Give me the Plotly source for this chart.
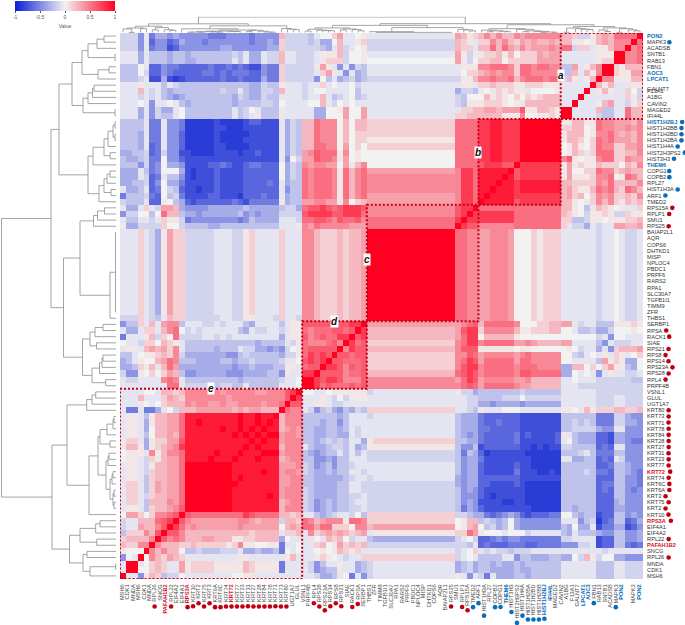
import numpy as np
import plotly.graph_objects as go

# gene order, top to bottom on the right hand side
genes = [
    "PON2", "MAPK3", "ACADSB", "SNTB1", "RAB13", "FBN1", "AOC3", "LPCAT1", "GALNT7", "F13A1",
    "A1BG", "CAVIN2", "MAGED2", "IFI44L", "HIST1H2BJ", "HIST1H2BB", "HIST1H2BD", "HIST1H2BA",
    "HIST1H4A", "HIST2H3PS2", "HIST3H3", "THEM6", "COPG1", "COPB2", "RPL27", "HIST1H3A", "ARF1",
    "TMED2", "RPS15A", "RPLP1", "SMU1", "RPS25", "BAIAP2L1", "AQR", "COPS6", "DHTKD1", "MISP",
    "NPLOC4", "PBDC1", "PRPF6", "RARS2", "RPA1", "SLC30A7", "TGFB1I1", "TIMM9", "ZFR", "THBS1",
    "SERBP1", "RPSA", "RACK1", "SIAE", "RPS21", "RPS8", "RPS14", "RPS23A", "RPS28", "RPL4",
    "PRPF4B", "VSNL1", "GLUL", "UGT1A7", "KRT80", "KRT73", "KRT71", "KRT78", "KRT84", "KRT28",
    "KRT27", "KRT31", "KRT23", "KRT77", "KRT72", "KRT74", "KRT6C", "KRT6A", "KRT3", "KRT75",
    "KRT2", "KRT10", "RPS3A", "EIF4A1", "EIF4A2", "RPL22", "PAFAH1B2", "SNCG", "RPL26", "MNDA",
    "CDK1", "MSH6",
]

# colour level, one character per cell
levels = {
    "j": -1.0, "i": -0.86, "h": -0.77, "g": -0.66, "f": -0.56, "e": -0.45, "d": -0.33,
    "c": -0.22, "b": -0.14, "a": -0.06, "0": 0.0, "1": 0.05, "2": 0.14, "3": 0.24,
    "4": 0.34, "5": 0.44, "6": 0.54, "7": 0.63, "8": 0.76, "9": 0.89, "X": 1.0,
}

# columns left to right are the genes bottom to top; only cells up to the diagonal are read,
# the other half is the mirror. Chunks follow the cluster edges.
chunk_sizes = [10, 1, 16, 1, 3, 11, 1, 14, 4, 14, 14]
stripe = "aaa2abd142 2 bbbbbaaabb12aaaa 2 aaa 55322232334 X XXXXXXXXXXXXXX"
rows = [
    "bbbeafdded e eeeefffeeeefeeee 3 bbb bca0024aa01 a aaaaaaaaaaaaaa 4312 35353354555555 332bb134366 7XX",
    "bbbeageegf d eeefeeeeeeefeede 2 bbb bcbdd03aa12 b bbbbbbbbbbbbbb 321a 22535324343343 33110134355 7XX",
    "bbbeafeehg e eeeeeeddeeeeeedd 2 bbb bbbcda3ba01 b bbbbbbbbbbbbbb 322a 33636435344454 66b22a11355X55",
    "aaadacccdc c dcccccccbcaddabb 3 aab bba1113b001 a aaaaaaaaaaaaaa 41b1 12231302224344 aaaaaa111XX133",
    "aaadacccdc c ddccccccacaddabb 3 aab bba1222b001 0 00000000000000 41b0 22330222224444 aaaaaa122XX133",
    "ccc0aggeff g ggggfggfgfghheff 2 bbb bb141aeaebc a aaaaaaaaaaaaaa a111 55666526656655 cc4a135XX12112",
    "ccc0bggefg g gggffgfgfffggeff 2 bbb bba241aeadc a aaaaaaaaaaaaaa a022 34545526655555 cc3a315XX",
    "cccbahhdhi h ggggggfggfgggdff 2 bbb bbe0cadcbdc b bbbbbbbbbbbbbb b113 55655635666566 b31a13X",
    "aaa1aaacab c cccccccccccddbcc 1 aaa baa2a0aa0ba a aaaaaaaaaaaaaa a11a 22322211222111 aaaaaX",
    "aaa3abacdc c ccccccbccacddbbc 3 aaa ba00aaaa0ca a aaaaaaaaaaaaaa dbbc 10121211a00001 aaaaX",
    "aaababacde d ccccccccdbcddbcc a aaa baa3acba0cb a aaaaaaaaaaaaaa bc00 03121020212333 aaaX",
    "aaa0aeaa0a c dcccccccdccccbbc 0 aaa a003ab0a0aa a aaaaaaaaaaaaaa bc11 12221011333333 aaX",
    "aaadaebdda 0 ccccccccacb0accc 1 aaa aadd0014004 a aaaaaaaaaaaaaa a223 34434447113321 XX",
    "aaadaebcca 0 ccccccccacba1ccc 1 aaa aadd0004004 a aaaaaaaaaaaaaa 2233 33331115001121 X",
    "ccccaffaee f iiiiihiiiihgghhh a dbc 33655503033 2 22222222222222 6666 8899888XXXXXXX",
    "ccccaffaee f iiiiihhiiihhhhhh a dbc 33655503033 2 22222222222222 6666 8899888XXXXXXX",
    "cccdaffaee g iiiiihiiiiihhhhh a dbc 33655503022 2 22222222222222 6666 8899888XXXXXXX",
    "cccdaffaee g iiiiihiiiihhhhhh a dbc 33655503022 1 11111111111111 6666 8899888XXXXXXX",
    "cccdagfaee g iiiiihhiiiihhhhh a dbc 33665504020 2 22222222222222 6666 8899888XXXXXXX",
    "ddccbgfbee h hiiiihhhhihhghhh a dbc 45766615010 0 00000000000000 6666 8899888XXXXXXX",
    "cddcbff0ee g hhhhhhhhhhhhhhhh a e0b 44766514010 0 00000000000000 6666 8899888XXXXXXX",
    "cccebfe0dd e hhhhggfghhgffggg 0 dbc 54554404135 0 00000000000000 6666 7888777",
    "dddacfe000 d hihhhghhhhgggggg 0 dbc 65666516356 4 44444444444444 5886 9999998",
    "dddabgfacc e hihhhghhhhgggggg 0 dbc 65666516356 5 55555555555555 5886 999999",
    "ddccbge0dd f hhhhhghhhhggggfg a dcc 65666516356 5 55555555555555 5886 99999",
    "addcagf0bc g hhihhghhhhgggggg a ecc 65666516356 5 55555555555555 5886 9999",
    "fcccbfg0cb f hhhhgghhhigggfgg a dcc 65666516356 4 44444444444444 5886 99",
    "bcccagg10c d ghggggggfghfffff 1 dcc 44554415023 4 44444444444444 5886 8",
    "adda2ab443 d eeeeddddddcddddd c bbd 67787678887 5 55555555555555 7887",
    "ebb00c0633 c ddeddddddcededdd b bbb 78888778886 5 55555555555555 788",
    "accaaba211 b feeeeeeeefecdddd a aab 66776576675 6 66666666666666 8X",
    "1ddbbbb200 b ccccddcccccccccc a aa1 54655555444 6 66666666666666 X",
] + [stripe] * 14 + [
    "bbb2abca32 2 bbbbbbaabb11aaab 2 aab 55322232334 X",
    "ecc2a3a455 c aaabbabaaacdaaaa c a11 7777777788X",
    "adda22a356 0 babaaaaaacdabbaa b a11 656667767X",
    "faaa13b206 b bbbaababaaaaaaaa d a11 75676688X",
    "0aab220321 a ccccccccccccdccc c ab1 6555675X",
    "a11a343425 a cccccdcccabbdded e b01 677777X",
    "cca0112325 b dddddddeecbccccc d bb1 68787X",
    "dca1003465 c ccddddccdccbcccc b aa0 7878X",
    "ddc213a364 d ddddddddeddcdddc c 11a 677X",
    "bee1020243 c eedddddeeeddddcc e 1aa 88X",
    "abbaaaa565 a cccccccccdcccccc b aa0 XX",
    "aaaaaaaa66 a bbbbccbbccaccccc a aa0 X",
    "aaaa00a332 3 5555554555554455 5 78X",
    "aaa3aaa243 2 5555555455555555 5 7X",
    "aaa10a0233 3 5455445445555455 6 X",
    "affaffda0b 3 3344444434344333 X",
    "a11ac13344 6 999999999X99X99X",
    "a11ad13344 6 99X999999X99X9X9",
    "a11ad03344 6 999999X99X9X9X99",
    "a11ac03343 6 99999999X9X9X99",
    "122ad12244 7 9999999999999",
    "1331d12345 8 999999999999",
    "0111a51355 6 99999X99999",
    "011ab21344 6 9999X99999",
    "a11ab13344 6 XXXXXXXX9",
    "a11ab23344 6 XXXXXXXX",
    "a11ac23344 6 XXXXXXX",
    "a22ac24344 6 XXXXXX",
    "a22ac24344 6 XXXXX",
    "a22ab23344 6 XXXX",
    "a22ac33354 6 XXX",
    "a11ac23345 7 XX",
    "0442025567 X",
    "baa333678X",
    "baa43357X",
    "c222537X",
    "233335X",
    "32255X",
    "1000X",
    "e0aX",
    "aXX",
    "aX",
    "X",
]

# clustering tree: (distance, child, child, ...), a plain number is a row of the heatmap
tree = (1.5,
    (51,
        (59,
            (72,
                (82,
                    (88, (97, (104, 0, 1), 2), (115, 3, 4)),
                    (98, (109, 5, 6), 7)),
                (83, (88, (92.5, (94, 8, 9), 10), 11), (115, 12, 13))),
            (88,
                (93,
                    (104, (108, (113, (115, 14, 15), (115, 16, 17)), 18), (110, 19, 20)),
                    21),
                (99, (104, (107, (110, 22, 23), 24), (111, 25, 26)), 27))),
        (63.5,
            (80,
                (93.5, (97.5, (104.5, 28, 29), 30), 31),
                (110, (115.5, 32, 33, 34, 35, 36, 37, 38, 39, 40, 41, 42, 43, 44, 45), 46)),
            (82.5,
                (90, (95, (103, 47, 48), 49), (96.5, 50, 51)),
                (92, (99.5, (102, (103, 52, 53), 54), 55), (105.7, 56, 57))))),
    (52,
        (67,
            (86.7, (92, (95.7, 58, 59), 60), 61),
            (89,
                (98,
                    (100, (107, (113, (114, 62, 63), 64), 65), (110, 66, 67)),
                    (106,
                        (108, (109, 68, 69), 70),
                        (110, (112, (113, 71, 72), 73), (113, (114, 74, 75), (114, 76, 77))))),
                78)),
        (69.5,
            (80, (95.7, (100, 79, 80), 81), (96.7, 82, 83)),
            (83, (87, 84, 85), (90, (115.7, 86, 87), 88)))))

# label colours and dots
right_blue = ["PON2", "AOC3", "LPCAT1", "HIST1H2BJ", "THEM6"]
bottom_blue = ["PON2", "AOC3", "LPCAT1", "HIST1H2BJ", "THEM6", "IFI44L"]
red_names = ["KRT72", "RPS3A", "PAFAH1B2"]
red_dots = [
    "RPS15A", "RPLP1", "RPS25", "RPSA", "RACK1", "RPS21", "RPS8", "RPS14", "RPS23A", "RPS28", "RPL4",
    "KRT80", "KRT73", "KRT71", "KRT78", "KRT84", "KRT28", "KRT27", "KRT31", "KRT23", "KRT77", "KRT72",
    "KRT74", "KRT6C", "KRT6A", "KRT3", "KRT75", "KRT2", "KRT10", "RPS3A", "RPL22", "RPL26",
]
right_blue_dots = [
    "MAPK3", "HIST1H2BJ", "HIST1H2BB", "HIST1H2BD", "HIST1H2BA", "HIST1H4A", "HIST2H3PS2", "HIST3H3",
    "COPG1", "COPB2", "HIST1H3A", "ARF1",
]
bottom_blue_dots = right_blue_dots + ["TMED2", "FBN1"]

# dotted boxes: letter, first row, last row
box_letters = ["a", "b", "c", "d", "e"]
box_first = [0, 14, 28, 47, 58]
box_last = [13, 27, 46, 57, 88]
letter_col = [74.5, 60.5, 41.5, 36, 15]
letter_row = [6.5, 18.9, 36.5, 46.5, 57.5]

BLUE = "#0b6cb8"
RED = "#d3122a"
DOT_RED = "#c00010"
FONT = "Liberation Sans"
W, H = 685, 625
LEFT, RIGHT, TOP, BOTTOM = 120, 643, 33, 579
RIGHT_SIZE, BOTTOM_SIZE = 5.6, 5.7
n = len(genes)


def read_matrix():
    mat = np.full((n, n), np.nan)
    for i, row in enumerate(rows):
        cells = ""
        for chunk, size in zip(row.split(" "), chunk_sizes):
            cells += (chunk + chunk[-1] * size)[:size]
        for j, ch in enumerate(cells):
            if j <= n - 1 - i:
                mat[i, j] = levels[ch]
    # symmetric about the anti-diagonal
    for i in range(n):
        for j in range(n):
            if j > n - 1 - i:
                mat[i, j] = mat[n - 1 - j, n - 1 - i]
    for i in range(n):
        mat[i, n - 1 - i] = 1.0
    return mat


def tree_lines(node, heights, places):
    """Walk the tree, return the place and height of the node."""
    if not isinstance(node, tuple):
        return node, 116.0
    h = node[0]
    kids = [tree_lines(k, heights, places) for k in node[1:]]
    first, last = kids[0][0], kids[-1][0]
    for place, kid_h in kids:
        heights += [kid_h, h, None]
        places += [place, place, None]
    heights += [h, h, None]
    places += [first, last, None]
    return (first + last) / 2, h


def label(name, blue):
    if name in red_names:
        return f'<b><span style="color:{RED}">{name}</span></b>'
    if name in blue:
        return f'<b><span style="color:{BLUE}">{name}</span></b>'
    return name


def text_width(name, size):
    """Rough width of a label in Liberation Sans, to know where its dot goes."""
    em = 0.0
    for ch in name:
        if ch in "I1J":
            em += 0.278 if ch == "I" else 0.53
        elif ch.isdigit():
            em += 0.556
        else:
            em += 0.68
    return em * size


z = read_matrix()
colorscale = [[0, "#0a1ed2"], [0.5, "#f2f2f2"], [1, "#ff0020"]]

fig = go.Figure()
fig.add_trace(go.Heatmap(
    z=z, x=list(range(n)), y=list(range(n)), zmin=-1, zmax=1, colorscale=colorscale,
    colorbar=dict(
        orientation="h", x=13 / W, y=1, xanchor="left", yanchor="top",
        lenmode="pixels", len=104, thickness=10, outlinewidth=0, xpad=2, ypad=1,
        tickvals=[-1, -0.5, 0, 0.5, 1], ticktext=["-1", "-0.5", "0", "0.5", "1"],
        ticks="outside", ticklen=2, tickwidth=0.5, tickcolor="#555",
        tickfont=dict(family=FONT, size=5, color="#555"),
        title=dict(text="Value", side="bottom", font=dict(family=FONT, size=5, color="#555")),
    ),
))

heights, places = [], []
tree_lines(tree, heights, places)
line = dict(color="#8e8e8e", width=0.8)
fig.add_trace(go.Scatter(x=heights, y=places, mode="lines", line=line, xaxis="x2", yaxis="y2",
                         showlegend=False, hoverinfo="skip"))
fig.add_trace(go.Scatter(x=[None if p is None else n - 1 - p for p in places], y=heights, mode="lines",
                         line=line, xaxis="x3", yaxis="y3", showlegend=False, hoverinfo="skip"))

# right hand labels; GALNT7 and F13A1 nearly sit on each other in the original
right_pos = [float(i) for i in range(n)]
right_pos[genes.index("GALNT7")] = 8.6
right_text = [label(g, right_blue) for g in genes]

# the bottom labels do not line up with the cells: MSH6, CDK1, MNDA and MAPK3, PON2 are printed twice
bottom_names = ["MSH6", "CDK1", "MNDA"] + genes[::-1] + ["MAPK3", "PON2"]
bottom_px = [121.7 + 5.49 * k for k in range(len(bottom_names) - 2)] + [633, 639]
cell = (RIGHT - LEFT) / n
bottom_pos = [(p - LEFT) / cell - 0.5 for p in bottom_px]
bottom_text = [label(g, bottom_blue) for g in bottom_names]

# dots next to the labels, placed from the label widths in page pixels
row_h = (BOTTOM - TOP) / n
dot_x, dot_y, dot_c = [], [], []
for i, g in enumerate(genes):
    color = DOT_RED if g in red_dots else BLUE if g in right_blue_dots else None
    if color:
        gap = 6.5 if g in right_blue or g in red_names else 5
        dot_x.append(RIGHT + 3 + text_width(g, RIGHT_SIZE) + gap)
        dot_y.append(TOP + (i + 0.5) * row_h)
        dot_c.append(color)
for g, p in zip(bottom_names[3:-2], bottom_px[3:-2]):
    color = DOT_RED if g in red_dots else BLUE if g in bottom_blue_dots else None
    if color:
        dot_x.append(p)
        dot_y.append(BOTTOM + 3 + text_width(g, BOTTOM_SIZE) + 6.5)
        dot_c.append(color)
fig.add_trace(go.Scatter(x=dot_x, y=dot_y, mode="markers", xaxis="x4", yaxis="y4", showlegend=False,
                         hoverinfo="skip", cliponaxis=False,
                         marker=dict(size=4.6, color=dot_c, line=dict(width=0))))

for first, last in zip(box_first, box_last):
    fig.add_shape(type="rect", xref="x", yref="y",
                  x0=n - 1 - last - 0.5, x1=n - 1 - first + 0.5, y0=first - 0.5, y1=last + 0.5,
                  line=dict(color="#c00018", width=2, dash="2px,2px"))
for letter, col, row in zip(box_letters, letter_col, letter_row):
    fig.add_annotation(x=col, y=row, xref="x", yref="y", text=f"<b><i>{letter}</i></b>", showarrow=False,
                       bgcolor="white", borderpad=0, font=dict(family=FONT, size=10, color="#111"))

# plot backgrounds stay see-through, the dot layer lies over everything
fig.update_layout(
    width=W, height=H, margin=dict(l=0, r=0, t=0, b=0), autosize=False,
    paper_bgcolor="white", plot_bgcolor="rgba(0,0,0,0)", showlegend=False,
    xaxis=dict(domain=[LEFT / W, RIGHT / W], range=[-0.5, n - 0.5], anchor="y", showgrid=False, zeroline=False,
               tickmode="array", tickvals=bottom_pos, ticktext=bottom_text, tickangle=-90,
               tickfont=dict(family=FONT, size=BOTTOM_SIZE, color="#444"),
               ticks="outside", ticklen=2, tickcolor="rgba(0,0,0,0)"),
    yaxis=dict(domain=[1 - BOTTOM / H, 1 - TOP / H], range=[n - 0.5, -0.5], anchor="x", side="right",
               showgrid=False, zeroline=False, tickmode="array", tickvals=right_pos, ticktext=right_text,
               tickfont=dict(family=FONT, size=RIGHT_SIZE, color="#333"),
               ticks="outside", ticklen=2, tickcolor="rgba(0,0,0,0)"),
    xaxis2=dict(domain=[0, LEFT / W], range=[0, 120], anchor="y2", visible=False),
    yaxis2=dict(domain=[1 - BOTTOM / H, 1 - TOP / H], range=[n - 0.5, -0.5], anchor="x2", visible=False),
    xaxis3=dict(domain=[LEFT / W, RIGHT / W], range=[-0.5, n - 0.5], anchor="y3", visible=False),
    yaxis3=dict(domain=[1 - TOP / H, 1 - 16.8 / H], range=[120, 0], anchor="x3", visible=False),
    xaxis4=dict(domain=[0, 1], range=[0, W], anchor="y4", visible=False),
    yaxis4=dict(domain=[0, 1], range=[H, 0], anchor="x4", visible=False),
)

fig.write_html("out.html", config={"displayModeBar": False}, post_script="document.body.style.margin='0';")
